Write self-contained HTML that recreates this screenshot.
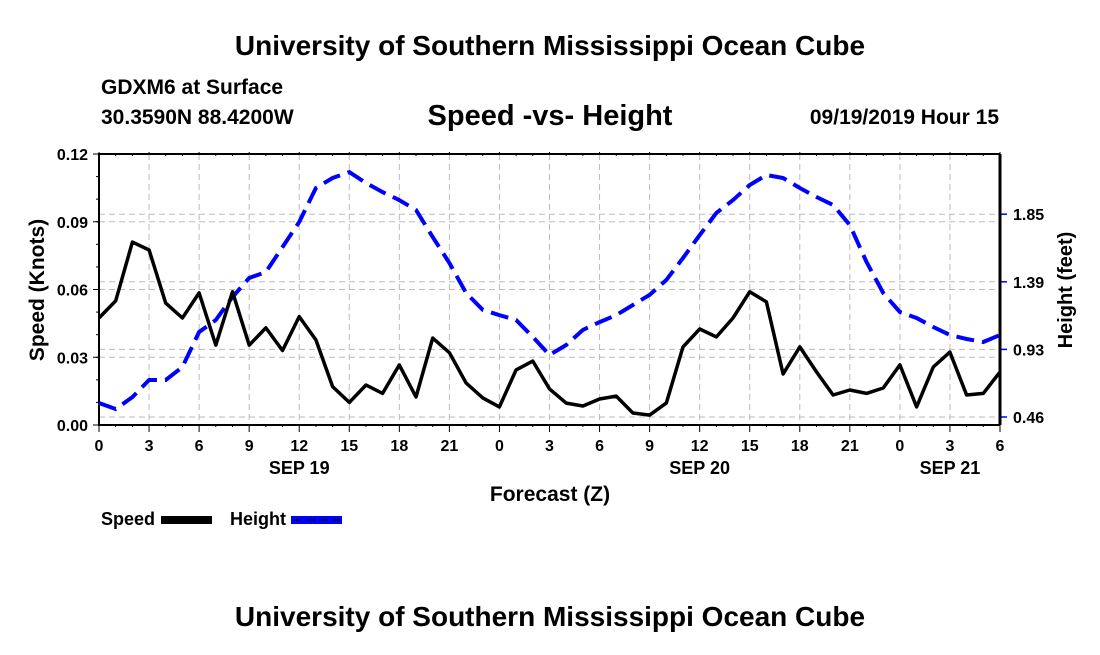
<!DOCTYPE html>
<html><head><meta charset="utf-8"><style>
body{margin:0;background:#fff;width:1100px;height:650px;overflow:hidden;font-family:"Liberation Sans",sans-serif}
svg text{font-family:"Liberation Sans",sans-serif;font-weight:bold}
</style></head><body>
<svg id="chart" width="1100" height="650">
<text x="550" y="55" text-anchor="middle" font-size="28">University of Southern Mississippi Ocean Cube</text>
<text x="101" y="94" font-size="21">GDXM6 at Surface</text>
<text x="101" y="124" font-size="21">30.3590N 88.4200W</text>
<text x="550" y="125" text-anchor="middle" font-size="29">Speed -vs- Height</text>
<text x="999" y="124" text-anchor="end" font-size="21">09/19/2019 Hour 15</text>
<g id="grid"></g><g id="axes"></g><g id="series"></g>
<text x="550" y="501" text-anchor="middle" font-size="21">Forecast (Z)</text>
<text transform="translate(44,290) rotate(-90)" text-anchor="middle" font-size="21">Speed (Knots)</text>
<text transform="translate(1072,290) rotate(-90)" text-anchor="middle" font-size="20">Height (feet)</text>
<g><text x="101" y="525" font-size="18">Speed</text><rect x="161" y="516" width="51" height="8" fill="#000"/></g>
<g><text x="230" y="525" font-size="18">Height</text><rect x="291" y="516" width="51" height="8" fill="#00f"/><line x1="293" y1="520" x2="342" y2="520" stroke="#000066" stroke-width="2" stroke-dasharray="9,4"/></g>
<text x="550" y="626" text-anchor="middle" font-size="28">University of Southern Mississippi Ocean Cube</text>
</svg>
<script>
const hours=[];for(let i=0;i<=54;i++)hours.push(i);
const speed=[0.0474,0.055,0.081,0.0775,0.054,0.0474,0.0585,0.0354,0.059,0.0354,0.043,0.033,0.048,0.0377,0.017,0.010,0.0177,0.014,0.0266,0.0124,0.0385,0.032,0.0186,0.012,0.008,0.0244,0.0283,0.016,0.0097,0.0084,0.0115,0.0128,0.0053,0.0044,0.0097,0.0346,0.0425,0.039,0.0474,0.059,0.0545,0.0226,0.0346,0.0235,0.0133,0.0155,0.014,0.0164,0.0266,0.008,0.0257,0.0323,0.0133,0.014,0.0235];
const height=[0.559,0.518,0.60,0.717,0.717,0.806,1.046,1.128,1.286,1.416,1.457,1.628,1.80,2.033,2.101,2.142,2.067,2.005,1.95,1.882,1.697,1.519,1.313,1.197,1.162,1.128,1.012,0.888,0.957,1.06,1.114,1.162,1.231,1.30,1.402,1.553,1.71,1.862,1.95,2.053,2.122,2.101,2.033,1.971,1.916,1.779,1.526,1.313,1.183,1.142,1.08,1.025,0.998,0.977,1.025];
const xTickLabels=["0","3","6","9","12","15","18","21","0","3","6","9","12","15","18","21","0","3","6"];
const leftTicks=[0,0.03,0.06,0.09,0.12];
const rightTicks=[0.4633,0.9266,1.3899,1.8532];
const rightTickLabels=["0.46","0.93","1.39","1.85"];
const dayLabels=[["SEP 19",12],["SEP 20",36],["SEP 21",51]];
const X0=99,X1=1000,YT=154,YB=425;
const xs=h=>X0+(h/54)*(X1-X0);
const yl=v=>YB-(v/0.12)*(YB-YT);
const yr=v=>417-(v-0.4633)/0.4633*67.6;
const NS="http://www.w3.org/2000/svg";
function mk(p,t,a){const e=document.createElementNS(NS,t);for(const k in a)e.setAttribute(k,a[k]);p.appendChild(e);return e;}
const grid=document.getElementById('grid'),axes=document.getElementById('axes'),ser=document.getElementById('series');
xTickLabels.forEach((l,i)=>{const x=xs(i*3);
 if(i>0&&i<18){const g=mk(grid,'line',{x1:x,y1:YT,x2:x,y2:YB,stroke:'#bbb','stroke-dasharray':'6,4'});}
 mk(axes,'line',{x1:x,y1:YB,x2:x,y2:YB+7,stroke:'#000'});mk(axes,'line',{x1:x,y1:YT,x2:x,y2:YT-2,stroke:'#000'});
 const t=mk(axes,'text',{x:x,y:451,'text-anchor':'middle','font-size':16});t.textContent=l;
 });
for(let h=1;h<54;h++){if(h%3){mk(axes,'line',{x1:xs(h),y1:YB,x2:xs(h),y2:YB+2,stroke:'#000'});mk(axes,'line',{x1:xs(h),y1:YT,x2:xs(h),y2:YT+2,stroke:'#000'});}}
dayLabels.forEach(d=>{const t=mk(axes,'text',{x:xs(d[1]),y:474,'text-anchor':'middle','font-size':18});t.textContent=d[0];});
leftTicks.forEach(v=>{const y=yl(v);
 if(v>0&&v<0.12){const g=mk(grid,'line',{x1:X0,y1:y,x2:X1,y2:y,stroke:'#bbb','stroke-dasharray':'6,4'});}
 mk(axes,'line',{x1:X0,y1:y,x2:X0-6,y2:y,stroke:'#000'});
 const t=mk(axes,'text',{x:88,y:y+6,'text-anchor':'end','font-size':16});t.textContent=v.toFixed(2);});
for(let v=0.01;v<0.12;v+=0.01)mk(axes,'line',{x1:X0,y1:yl(v),x2:X0-3,y2:yl(v),stroke:'#000'});
rightTicks.forEach((v,i)=>{const y=yr(v);
 const g=mk(grid,'line',{x1:X0,y1:y,x2:X1,y2:y,stroke:'#bbb','stroke-dasharray':'6,4'});
 mk(axes,'line',{x1:X1,y1:y,x2:X1+7,y2:y,stroke:'#00f','stroke-width':1.5});
 const t=mk(axes,'text',{x:1013,y:y+6,'font-size':16});t.textContent=rightTickLabels[i];});
const fr=mk(axes,'path',{d:`M${X1},${YT}H${X0}V${YB}H${X1}`,fill:'none',stroke:'#000','stroke-width':2});

const ra=mk(axes,'line',{x1:X1,y1:YT,x2:X1,y2:YB,stroke:'#000','stroke-width':3});

const hp=mk(ser,'path',{d:'M'+hours.map((h,i)=>xs(h).toFixed(1)+','+yr(height[i]).toFixed(1)).join('L'),fill:'none',stroke:'#00f','stroke-width':4,'stroke-dasharray':'18,8'});

const sp=mk(ser,'path',{d:'M'+hours.map((h,i)=>xs(h).toFixed(1)+','+yl(speed[i]).toFixed(1)).join('L'),fill:'none',stroke:'#000','stroke-width':3.5,'stroke-linejoin':'round'});

</script>
</body></html>
